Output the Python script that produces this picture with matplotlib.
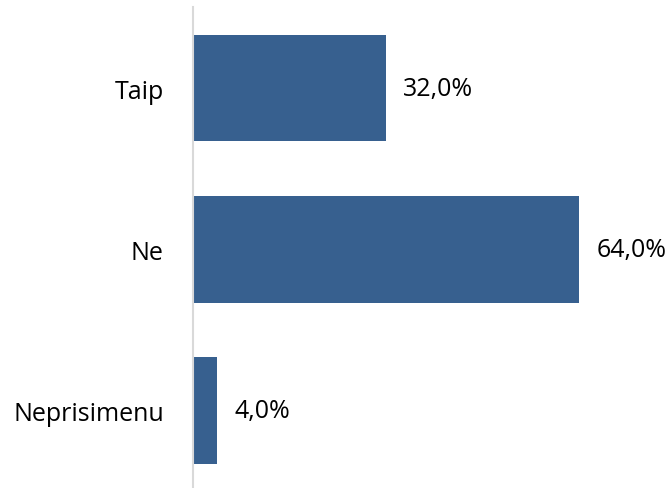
import matplotlib
matplotlib.use("Agg")
import matplotlib.pyplot as plt

categories = ["Taip", "Ne", "Neprisimenu"]
values = [32.0, 64.0, 4.0]
value_labels = ["32,0%", "64,0%", "4,0%"]

bar_color = "#37608F"

plt.rcParams['font.family'] = ['Open Sans', 'DejaVu Sans']

fig = plt.figure(figsize=(6.70, 4.89), dpi=100)
ax = fig.add_axes([193 / 670, 0, 477 / 670, 481 / 489])

pos = range(len(categories))
ax.barh(pos, values, height=0.66, color=bar_color)

for p, v, lab in zip(pos, values, value_labels):
    ax.annotate(lab, (v, p), xytext=(12.5, 0), textcoords="offset points",
                va="center", ha="left", fontsize=18, color="#000000")

ax.set_yticks(list(pos))
ax.set_yticklabels(categories, fontsize=18)
ax.tick_params(axis="y", length=0, pad=21)
ax.set_xticks([])
ax.set_xlim(0, 79.1)
ax.set_ylim(2.48, -0.503)

for s in ["top", "right", "bottom"]:
    ax.spines[s].set_visible(False)
ax.spines["left"].set_color("#d9d9d9")
ax.spines["left"].set_linewidth(1.5)

fig.savefig("out.png", dpi=100)
